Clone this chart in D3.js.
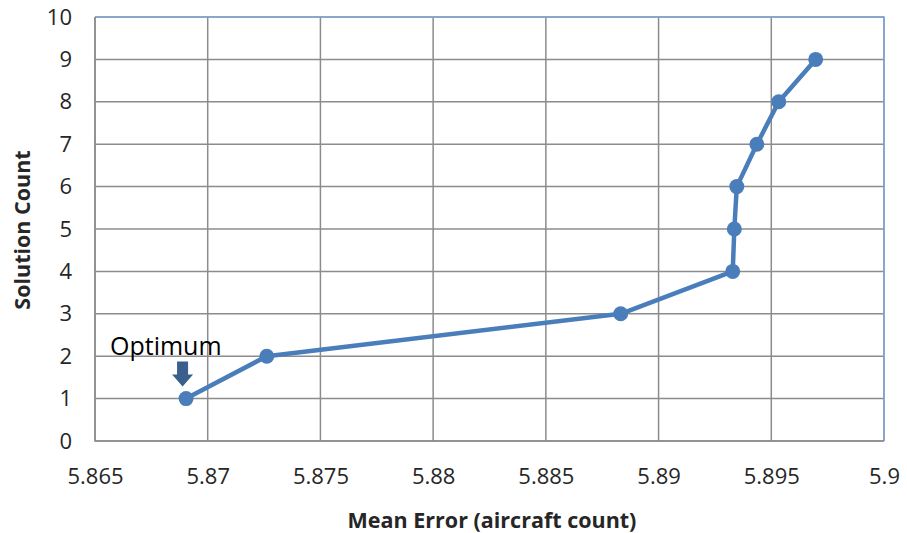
<!DOCTYPE html>
<html><head><meta charset="utf-8">
<script src="https://cdn.jsdelivr.net/npm/d3@7"></script>
<style>body{margin:0;background:#fff}svg{display:block}</style>
</head><body>
<script>
const meanError = [5.86904, 5.87262, 5.88832, 5.89329, 5.89336, 5.89347, 5.89436, 5.89533, 5.89697];
const solutionCount = [1, 2, 3, 4, 5, 6, 7, 8, 9];
const xTicks = [5.865, 5.87, 5.875, 5.88, 5.885, 5.89, 5.895, 5.9];
const yTicks = [0, 1, 2, 3, 4, 5, 6, 7, 8, 9, 10];
const xTitle = "Mean Error (aircraft  count)";
const yTitle = "Solution Count";
const annotation = "Optimum";

const W = 907, H = 533;
const m = {left: 95, top: 17, right: 884, bottom: 441};
const svg = d3.select("body").append("svg").attr("width", W).attr("height", H);
const x = d3.scaleLinear().domain([5.865, 5.9]).range([m.left, m.right]);
const y = d3.scaleLinear().domain([0, 10]).range([m.bottom, m.top]);
const font = "Open Sans, sans-serif";

// gridlines
const g = svg.append("g");
g.selectAll(".vg").data(xTicks).join("line")
  .attr("x1", d => x(d)).attr("x2", d => x(d)).attr("y1", m.top).attr("y2", m.bottom)
  .attr("stroke", "#8c8c8c").attr("stroke-width", 1.5);
g.selectAll(".hg").data(yTicks).join("line")
  .attr("y1", d => y(d)).attr("y2", d => y(d)).attr("x1", m.left).attr("x2", m.right)
  .attr("stroke", "#8c8c8c").attr("stroke-width", 1.5);
svg.append("path").attr("d", `M${m.left},${m.top}H${m.right}V${m.bottom}`)
  .attr("fill", "none").attr("stroke", "#7fa6d6").attr("stroke-width", 1.5);
svg.append("path").attr("d", `M${m.left},${m.top}V${m.bottom}H${m.right}`)
  .attr("fill", "none").attr("stroke", "#8c8c8c").attr("stroke-width", 1.5);

// axes via d3
const xAxis = d3.axisBottom(x).tickValues(xTicks).tickSize(0).tickPadding(27).tickFormat(d => String(+d.toFixed(3)));
const ax = svg.append("g").attr("transform", `translate(0,${m.bottom})`).call(xAxis);
ax.select(".domain").remove();
ax.selectAll("text").attr("font-family", font).attr("font-size", 22).attr("fill", "#262626");
const yAxis = d3.axisLeft(y).tickValues(yTicks).tickSize(0).tickPadding(23);
const ay = svg.append("g").attr("transform", `translate(${m.left},0)`).call(yAxis);
ay.select(".domain").remove();
ay.selectAll("text").attr("font-family", font).attr("font-size", 22).attr("fill", "#262626");

// line
const pts = meanError.map((v, i) => [v, solutionCount[i]]);
svg.append("path").datum(pts)
  .attr("d", d3.line().x(d => x(d[0])).y(d => y(d[1])))
  .attr("fill", "none").attr("stroke", "#4a7ebb").attr("stroke-width", 4.5).attr("stroke-linejoin", "round");
svg.selectAll(".pt").data(pts).join("circle")
  .attr("cx", d => x(d[0])).attr("cy", d => y(d[1])).attr("r", 7.5).attr("fill", "#4a7ebb");

// annotation
const ax0 = x(meanError[0]) - 3.5, ay0 = y(solutionCount[0]);
svg.append("path")
  .attr("d", `M${ax0-5.5},${ay0-37}H${ax0+5.5}V${ay0-24}H${ax0+10.5}L${ax0},${ay0-12}L${ax0-10.5},${ay0-24}H${ax0-5.5}Z`)
  .attr("fill", "#3a5f8c");
svg.append("text").attr("x", 110).attr("y", 355).text(annotation)
  .attr("font-family", font).attr("font-size", 25).attr("fill", "#000");

// titles
svg.append("text").attr("x", 492).attr("y", 528).attr("text-anchor", "middle").text(xTitle)
  .attr("font-family", font).attr("font-weight", "bold").attr("font-size", 21.5).attr("fill", "#262626");
svg.append("text").attr("transform", "translate(30,230) rotate(-90)").attr("text-anchor", "middle").text(yTitle)
  .attr("font-family", font).attr("font-weight", "bold").attr("font-size", 21.5).attr("fill", "#262626");
</script>
</body></html>
